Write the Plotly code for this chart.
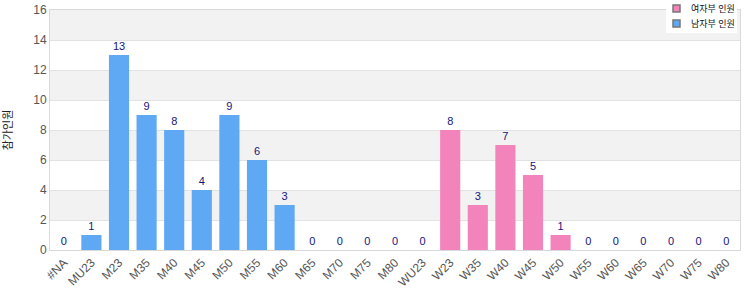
import plotly.graph_objects as go

categories = ["#NA", "MU23", "M23", "M35", "M40", "M45", "M50", "M55", "M60", "M65", "M70", "M75", "M80",
              "WU23", "W23", "W35", "W40", "W45", "W50", "W55", "W60", "W65", "W70", "W75", "W80"]
men_cats = categories[:14]
men_vals = [0, 1, 13, 9, 8, 4, 9, 6, 3, 0, 0, 0, 0, 0]
women_cats = categories[14:]
women_vals = [8, 3, 7, 5, 1, 0, 0, 0, 0, 0, 0]
women_name = "여자부 인원"
men_name = "남자부 인원"
y_title = "참가인원"
y_ticks = [0, 2, 4, 6, 8, 10, 12, 14, 16]

BLUE = "#5fa8f4"
PINK = "#f383bb"
FONT = "Liberation Sans, Arial, Noto Sans CJK KR"

fig = go.Figure()
fig.add_trace(go.Bar(x=men_cats, y=men_vals, name=men_name, marker=dict(color=BLUE, line=dict(width=0)),
                     text=men_vals, textposition="outside", cliponaxis=False,
                     textfont=dict(color="#141480", size=11), showlegend=False))
fig.add_trace(go.Bar(x=women_cats, y=women_vals, name=women_name, marker=dict(color=PINK, line=dict(width=0)),
                     text=women_vals, textposition="outside", cliponaxis=False,
                     textfont=dict(color="#141480", size=11), showlegend=False))

# plot area in pixels: x 50..740, y 10..250
def px_x(p):
    return (p - 50) / 690.0

def px_y(p):
    return (250 - p) / 240.0

shapes = []
for i in range(1, len(y_ticks) - 1, 2):
    shapes.append(dict(type="rect", xref="paper", yref="y", x0=0, x1=1,
                       y0=y_ticks[i], y1=y_ticks[i + 1], fillcolor="#f2f2f2",
                       line=dict(width=0), layer="below"))

# custom legend box
shapes.append(dict(type="rect", xref="paper", yref="paper", x0=px_x(666), x1=px_x(737),
                   y0=px_y(33), y1=px_y(0), fillcolor="white", line=dict(width=0), layer="above"))
annotations = []
for (name, color, cy) in [(women_name, PINK, 8.5), (men_name, BLUE, 23.5)]:
    shapes.append(dict(type="rect", xref="paper", yref="paper", x0=px_x(673), x1=px_x(680),
                       y0=px_y(cy + 3.5), y1=px_y(cy - 3.5), fillcolor=color,
                       line=dict(color="#777", width=1.5), layer="above"))
    annotations.append(dict(xref="paper", yref="paper", x=px_x(689), y=px_y(cy), text=name,
                            showarrow=False, xanchor="left", yanchor="middle",
                            font=dict(size=9, color="#111")))

fig.update_layout(
    width=750, height=300,
    margin=dict(l=50, r=10, t=10, b=50, autoexpand=False),
    paper_bgcolor="white", plot_bgcolor="white",
    font=dict(family=FONT, size=12, color="#555"),
    barmode="overlay", bargap=0.27,
    shapes=shapes, annotations=annotations,
    showlegend=False,
    xaxis=dict(type="category", categoryorder="array", categoryarray=categories,
               tickangle=-45, showline=True, linecolor="#d9d9d9", mirror=True,
               showgrid=False, ticks="", tickfont=dict(size=12, color="#555"), automargin=False),
    yaxis=dict(range=[0, 16], tickvals=y_ticks, showline=True, linecolor="#d9d9d9", mirror=True,
               gridcolor="#e2e2e2", zeroline=False, ticks="", automargin=False,
               title=dict(text=y_title, font=dict(size=11, color="#222"), standoff=18),
               tickfont=dict(size=12, color="#555")),
)

fig.write_html("out.html")
